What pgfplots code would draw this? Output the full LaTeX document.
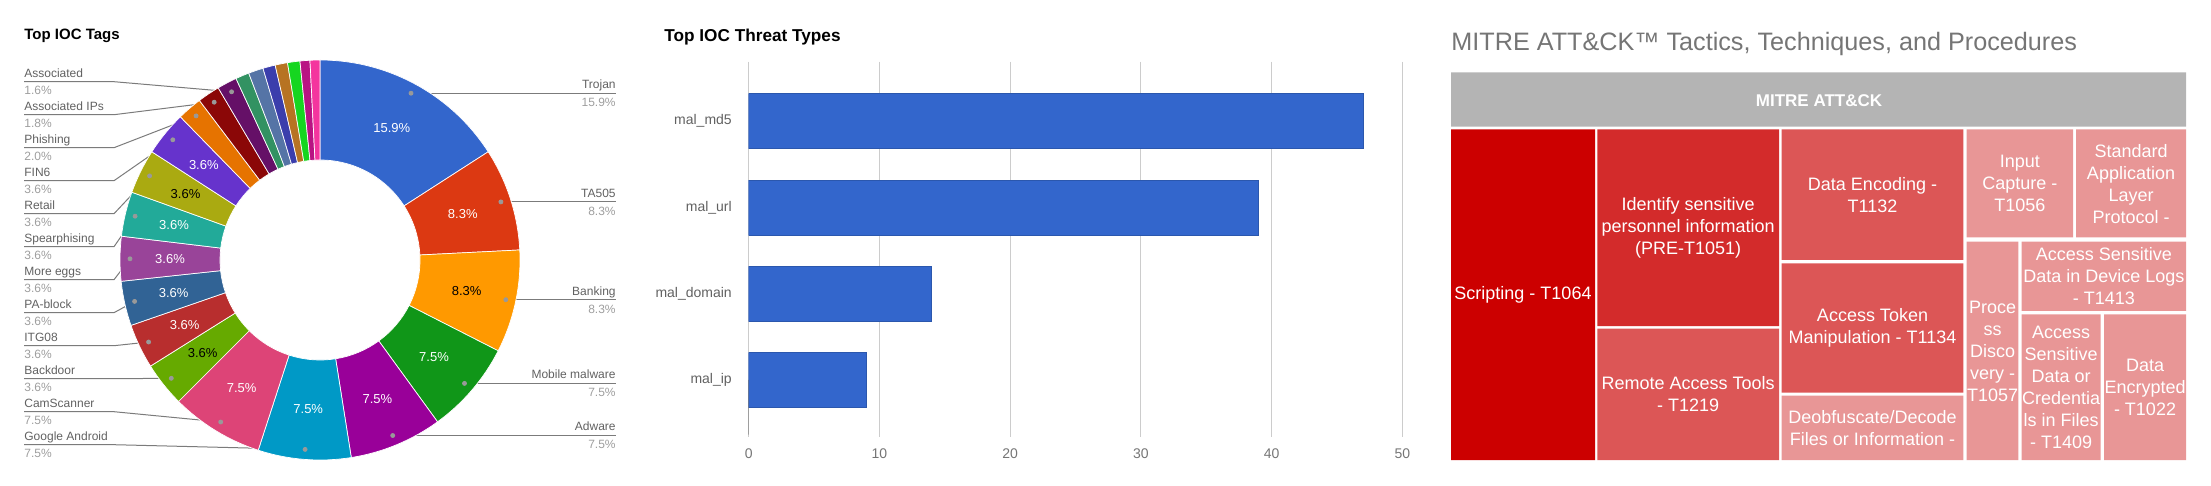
\documentclass[border=0pt]{standalone}
\usepackage{pgfplots}
\pgfplotsset{compat=1.18}
\usepackage{pgfplotstable}
\usepackage{fontspec}
\setmainfont{Liberation Sans}

\newcommand\fs[2]{\fontsize{#1}{#2}\selectfont}

% google chart palette
\definecolor{c1}{HTML}{3366CC}\definecolor{c2}{HTML}{DC3912}
\definecolor{c3}{HTML}{FF9900}\definecolor{c4}{HTML}{109618}
\definecolor{c5}{HTML}{990099}\definecolor{c6}{HTML}{0099C6}
\definecolor{c7}{HTML}{DD4477}\definecolor{c8}{HTML}{66AA00}
\definecolor{c9}{HTML}{B82E2E}\definecolor{c10}{HTML}{316395}
\definecolor{c11}{HTML}{994499}\definecolor{c12}{HTML}{22AA99}
\definecolor{c13}{HTML}{AAAA11}\definecolor{c14}{HTML}{6633CC}
\definecolor{c15}{HTML}{E67300}\definecolor{c16}{HTML}{8B0707}
\definecolor{c17}{HTML}{651067}\definecolor{c18}{HTML}{329262}
\definecolor{c19}{HTML}{5574A6}\definecolor{c20}{HTML}{3B3EAC}
\definecolor{c21}{HTML}{B77322}\definecolor{c22}{HTML}{16D620}
\definecolor{c23}{HTML}{B91383}\definecolor{c24}{HTML}{F4359E}
\colorlet{t0}{white}\colorlet{t1}{black}
\definecolor{namegray}{HTML}{616161}
\definecolor{pctgray}{HTML}{9E9E9E}
\definecolor{leadgray}{HTML}{7B7B7B}
\definecolor{dotgray}{HTML}{999999}
\definecolor{gridgray}{HTML}{CCCCCC}
\definecolor{tickgray}{HTML}{757575}
\definecolor{titlegray}{HTML}{757575}
\definecolor{tm0}{HTML}{CC0000}
\definecolor{tm1}{HTML}{D32B2B}
\definecolor{tm2}{HTML}{DC5656}
\definecolor{tm3}{HTML}{E89696}
\definecolor{hdr}{HTML}{B4B4B4}

% donut: cumulative start and share (percent), colour index, dark label flag
\pgfplotstableread{
x   y   start pct  ci dark
320 260 0     15.9 1  0
320 260 15.9  8.3  2  0
320 260 24.2  8.3  3  1
320 260 32.5  7.5  4  0
320 260 40.0  7.5  5  0
320 260 47.5  7.5  6  0
320 260 55.0  7.5  7  0
320 260 62.5  3.6  8  1
320 260 66.1  3.6  9  0
320 260 69.7  3.6  10 0
320 260 73.3  3.6  11 0
320 260 76.9  3.6  12 0
320 260 80.5  3.6  13 1
320 260 84.1  3.6  14 0
320 260 87.7  2.0  15 0
320 260 89.7  1.8  16 0
320 260 91.5  1.6  17 0
320 260 93.1  1.1  18 0
320 260 94.2  1.2  19 0
320 260 95.4  1.0  20 0
320 260 96.4  1.0  21 0
320 260 97.4  1.0  22 0
320 260 98.4  0.8  23 0
320 260 99.2  0.8  24 0
}\tagdata

\pgfplotstableread{
pos count
0 47
1 39
2 14
3 9
}\threatdata

% left-hand donut label: name, share, underline y, dot x, dot y
\newcommand\leftlab[5]{%
  \addplot[leadgray, line width=0.5pt] coordinates {(24,#3) (114,#3) (#4,#5)};
  \node[anchor=base west, inner sep=0pt, yshift=2pt, font=\fs{6}{7}, text=namegray] at (axis cs:24,#3) {#1};
  \node[anchor=base west, inner sep=0pt, yshift=-6.5pt, font=\fs{6}{7}, text=pctgray] at (axis cs:24,#3) {#2\%};
}
% right-hand donut label: name, share, dot x, dot y
\newcommand\rightlab[4]{%
  \addplot[leadgray, line width=0.5pt] coordinates {(#3,#4) (616,#4)};
  \node[anchor=base east, inner sep=0pt, yshift=2.3pt, font=\fs{6}{7}, text=namegray] at (axis cs:616,#4) {#1};
  \node[anchor=base east, inner sep=0pt, yshift=-6.7pt, font=\fs{6}{7}, text=pctgray] at (axis cs:616,#4) {#2\%};
}
% treemap cell: x0, y0, x1, y1, colour
\newcommand\cell[5]{%
  \addplot[fill=#5, draw=none] coordinates {(#1,#2) (#3,#2) (#3,#4) (#1,#4) (#1,#2)};
}

\begin{document}
\begin{tikzpicture}
\path[use as bounding box] (0,0) rectangle (1105.5pt,243pt);

% canvas in pixel units: donut, titles, treemap
\begin{axis}[at={(0pt,0pt)}, anchor=south west, scale only axis,
  width=1105.5pt, height=243pt,
  xmin=0, xmax=2211, ymin=0, ymax=486, y dir=reverse,
  hide axis, clip=false]

\node[anchor=base west, inner sep=0pt, font=\bfseries\fs{7.5}{9}] at (axis cs:24,39.3) {Top IOC Tags};
\node[anchor=base west, inner sep=0pt, font=\bfseries\fs{8.6}{10}] at (axis cs:664,41.7) {Top IOC Threat Types};
\node[anchor=base west, inner sep=0pt, font=\fs{12.6}{14}, text=titlegray] at (axis cs:1451,50.7) {MITRE ATT\&CK™ Tactics, Techniques, and Procedures};

% donut slices
\addplot[scatter, only marks, mark=text, text mark={},
  point meta=\thisrow{pct},
  visualization depends on={\thisrow{start} \as \sv},
  visualization depends on={\thisrow{pct} \as \pv},
  visualization depends on={\thisrow{ci} \as \cv},
  visualization depends on={\thisrow{dark} \as \dv},
  scatter/@pre marker code/.code={%
    \pgfmathsetmacro\aA{90-3.6*\sv}%
    \pgfmathsetmacro\aB{90-3.6*(\sv+\pv)}%
    \pgfmathsetmacro\aM{(\aA+\aB)/2}%
    \pgfmathtruncatemacro\cidx{\cv}%
    \pgfmathtruncatemacro\tidx{\dv}%
    \fill[c\cidx, draw=white, line width=0.35pt] (\aA:100pt) arc[start angle=\aA, end angle=\aB, radius=100pt]
      -- (\aB:50pt) arc[start angle=\aB, end angle=\aA, radius=50pt] -- cycle;
    \pgfmathtruncatemacro\showlab{\pv>3 ? 1 : 0}%
    \ifnum\showlab=1
      \node[text=t\tidx, inner sep=0pt, font=\fs{6.5}{7}] at (\aM:75pt)
        {\pgfmathprintnumber[fixed,precision=1,fixed zerofill,assume math mode=true]{\pv}\%};
    \fi
  },
  scatter/@post marker code/.code={}]
  table[x=x, y=y] {\tagdata};

% leader lines and labels
\leftlab{Associated}{1.6}{81.7}{231.6}{91.8}
\leftlab{Associated IPs}{1.8}{114.7}{214.2}{102.2}
\leftlab{Phishing}{2.0}{147.7}{196.1}{115.9}
\leftlab{FIN6}{3.6}{180.7}{172.8}{139.8}
\leftlab{Retail}{3.6}{213.7}{149.6}{175.9}
\leftlab{Spearphising}{3.6}{246.7}{135.1}{216.2}
\leftlab{More eggs}{3.6}{279.7}{130}{258.8}
\leftlab{PA-block}{3.6}{312.7}{134.6}{301.4}
\leftlab{ITG08}{3.6}{345.7}{148.6}{342}
\leftlab{Backdoor}{3.6}{378.7}{171.3}{378.3}
\leftlab{CamScanner}{7.5}{411.7}{220.7}{422}
\leftlab{Google Android}{7.5}{444.7}{305.1}{449.4}
\rightlab{Trojan}{15.9}{411}{93.2}
\rightlab{TA505}{8.3}{500.9}{201.9}
\rightlab{Banking}{8.3}{505.8}{299.7}
\rightlab{Mobile malware}{7.5}{464.5}{383.4}
\rightlab{Adware}{7.5}{392.7}{435.5}
\addplot[only marks, mark=*, mark size=1pt, dotgray] coordinates {
  (231.6,91.8) (214.2,102.2) (196.1,115.9) (172.8,139.8) (149.6,175.9)
  (135.1,216.2) (130,258.8) (134.6,301.4) (148.6,342) (171.3,378.3)
  (220.7,422) (305.1,449.4) (411,93.2) (500.9,201.9) (505.8,299.7)
  (464.5,383.4) (392.7,435.5)};

% treemap
\cell{1451}{72.3}{2186}{126.7}{hdr}
\node[anchor=base, inner sep=0pt, font=\bfseries\fs{8.5}{10}, text=white] at (axis cs:1819,106.7) {MITRE ATT\&CK};
\cell{1451}{129.3}{1595}{460}{tm0}
\cell{1597.3}{129.3}{1779}{326}{tm1}
\cell{1597.3}{328.7}{1779}{460}{tm2}
\cell{1781.7}{129.3}{1963.3}{260}{tm2}
\cell{1781.7}{263.3}{1963.3}{392.7}{tm2}
\cell{1781.7}{395.7}{1963.3}{460}{tm3}
\cell{1966.7}{129.3}{2073}{237.3}{tm3}
\cell{2076}{129.3}{2186}{237.3}{tm3}
\cell{1966.7}{241.7}{2018.3}{460}{tm3}
\cell{2021.7}{241.7}{2186}{311}{tm3}
\cell{2021.7}{314.3}{2100.7}{460}{tm3}
\cell{2104}{314.3}{2186}{460}{tm3}
\begin{scope}[every node/.style={align=center, inner sep=0pt, text=white, font=\fs{9}{11}}]
\node at (axis cs:1523,294.7) {Scripting - T1064};
\node at (axis cs:1688.2,227.7) {Identify sensitive\\personnel information\\(PRE-T1051)};
\node at (axis cs:1688.2,394.4) {Remote Access Tools\\- T1219};
\node at (axis cs:1872.5,194.7) {Data Encoding -\\T1132};
\node at (axis cs:1872.5,328) {Access Token\\Manipulation - T1134};
\node at (axis cs:1872.5,427.9) {Deobfuscate/Decode\\Files or Information -};
\node at (axis cs:2019.9,183.3) {Input\\Capture -\\T1056};
\node at (axis cs:2131,184.5) {Standard\\Application\\Layer\\Protocol -};
\node at (axis cs:1992.5,350.9) {Proce\\ss\\Disco\\very -\\T1057};
\node at (axis cs:2103.9,276.4) {Access Sensitive\\Data in Device Logs\\- T1413};
\node at (axis cs:2061.2,387.2) {Access\\Sensitive\\Data or\\Credentia\\ls in Files\\- T1409};
\node at (axis cs:2145,387.2) {Data\\Encrypted\\- T1022};
\end{scope}
\end{axis}

% bar chart
\begin{axis}[at={(374.35pt,24.65pt)}, anchor=south west, scale only axis,
  width=326.8pt, height=187.5pt,
  xbar, bar width=27.4pt,
  xmin=0, xmax=50, ymin=-0.69, ymax=3.655, y dir=reverse,
  xtick={0,10,20,30,40,50}, ytick={0,1,2,3},
  yticklabels={mal\_md5, mal\_url, mal\_domain, mal\_ip},
  /pgf/number format/assume math mode=true,
  xmajorgrids, major grid style={draw=gridgray, line width=0.5pt},
  axis line style={draw=none}, tick style={draw=none},
  ticklabel style={font=\fs{7}{8}},
  xticklabel style={text=tickgray, anchor=north, inner sep=0pt, yshift=-5.6pt},
  yticklabel style={text=namegray, anchor=east, inner sep=0pt, xshift=-4pt}]
\addplot[fill=c1, draw=c1!85!black, line width=0.4pt, bar shift=0pt] table[x=count, y=pos] {\threatdata};
\addplot[draw=black!70, line width=0.6pt] coordinates {(0,-0.69) (0,3.655)};
\end{axis}
\end{tikzpicture}
\end{document}
